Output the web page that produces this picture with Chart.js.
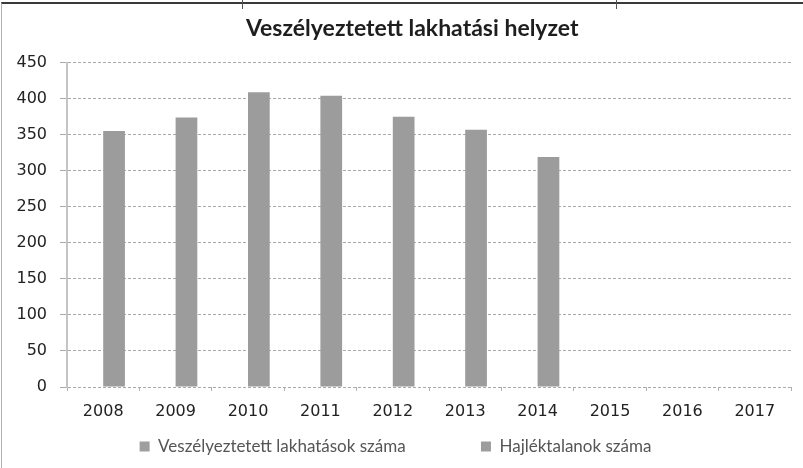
<!DOCTYPE html>
<html>
<head>
<meta charset="utf-8">
<script src="https://cdn.jsdelivr.net/npm/chart.js@4"></script>
<style>
  html, body { margin: 0; padding: 0; background: #fff; }
  #wrap { position: relative; width: 803px; height: 468px; }
  #frame {
    position: absolute; left: 1px; top: 2px; right: 0; bottom: 0;
    border-top: 2px solid #3a3a3a; border-left: 1px solid #b0b0b0;
    pointer-events: none;
  }
  .mark { position: absolute; top: 0; width: 1px; height: 9px; background: #555; }
</style>
</head>
<body>
<div id="wrap">
  <canvas id="housing_chart" width="803" height="468"></canvas>
  <div id="frame"></div>
  <div class="mark" style="left:242px"></div>
  <div class="mark" style="left:616px"></div>
</div>
<script>
const years = ["2008", "2009", "2010", "2011", "2012", "2013", "2014", "2015", "2016", "2017"];
const endangeredHousing = [null, null, null, null, null, null, null, null, null, null];
const homeless = [355, 374, 409, 404, 375, 357, 319, null, null, null];
const yTicks = [0, 50, 100, 150, 200, 250, 300, 350, 400, 450];

const ctx = document.getElementById("housing_chart");

new Chart(ctx, {
  type: "bar",
  data: {
    labels: years,
    datasets: [
      {
        label: "Veszélyeztetett lakhatások száma",
        data: endangeredHousing,
        backgroundColor: "#9f9f9f",
      },
      {
        label: "Hajléktalanok száma",
        data: homeless,
        backgroundColor: "#9c9c9c",
      },
    ],
  },
  options: {
    responsive: false,
    animation: false,
    layout: { padding: { top: 0, left: 0, right: 12, bottom: 3 } },
    datasets: {
      bar: { categoryPercentage: 0.6, barPercentage: 1.0 },
    },
    scales: {
      x: {
        grid: { drawOnChartArea: false, tickLength: 4, color: "#b0b0b0" },
        border: { display: false },
        ticks: {
          color: "#222",
          padding: 11,
          font: { family: "DejaVu Sans", size: 16 },
        },
        afterFit: (s) => { s.height = 41; },
      },
      y: {
        min: 0,
        max: 450,
        afterBuildTicks: (s) => { s.ticks = yTicks.map((v) => ({ value: v })); },
        grid: {
          color: "#a9a9a9",
          tickLength: 7,
        },
        border: { color: "#c4c4c4", width: 2, dash: [3, 2] },
        ticks: {
          color: "#222",
          padding: 13,
          font: { family: "DejaVu Sans", size: 16 },
        },
        afterFit: (s) => { s.width = 67; },
      },
    },
    plugins: {
      title: {
        display: true,
        text: "      Veszélyeztetett lakhatási helyzet",
        color: "#1e1e1e",
        font: { family: "Lato", size: 23, weight: "bold" },
        padding: { top: 15, bottom: 20 },
      },
      legend: {
        position: "bottom",
        labels: {
          color: "#555",
          boxWidth: 10,
          boxHeight: 10,
          padding: 10,
          font: { family: "Lato", size: 17 },
          generateLabels(chart) {
            const items = Chart.defaults.plugins.legend.labels.generateLabels(chart);
            // Excel leaves a wide gap after the first legend entry
            items[0].text = items[0].text + "               ";
            return items;
          },
        },
      },
      tooltip: { enabled: false },
    },
  },
});
</script>
</body>
</html>
